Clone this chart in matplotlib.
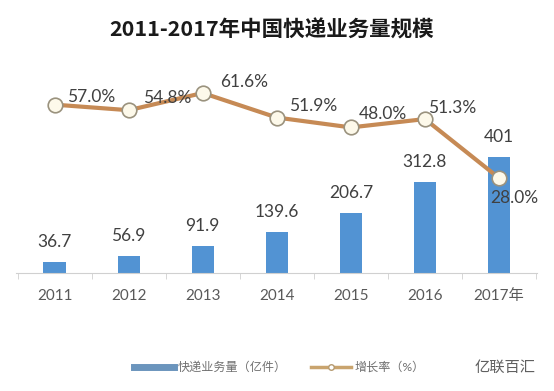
import matplotlib
matplotlib.use("Agg")
import matplotlib.pyplot as plt
from matplotlib.lines import Line2D

plt.rcParams['font.family'] = ['Lato', 'Noto Sans CJK SC', 'DejaVu Sans']

# data
years = ['2011', '2012', '2013', '2014', '2015', '2016', '2017年']
volume = [36.7, 56.9, 91.9, 139.6, 206.7, 312.8, 401]
volume_labels = ['36.7', '56.9', '91.9', '139.6', '206.7', '312.8', '401']
growth = [57.0, 54.8, 61.6, 51.9, 48.0, 51.3, 28.0]

bar_color = '#5293d3'
line_color = '#c68a55'
text_color = '#404040'

fig = plt.figure(figsize=(5.54, 3.91), dpi=100)
ax = fig.add_axes([0.029, 0.3026, 0.940, 0.545])
x = list(range(len(years)))

ax.bar(x, volume, width=0.30, color=bar_color, zorder=2)
ax.set_xlim(-0.52, 6.51)
ax.set_ylim(0, 737)
ax.set_xticks(x)
ax.set_xticklabels(years, fontsize=11, color='#595959')
ax.set_xticks([i - 0.5 for i in range(len(years) + 1)], minor=True)
ax.tick_params(axis='x', which='major', length=0, pad=12)
ax.tick_params(axis='x', which='minor', length=4, color='#d0d0d0')
ax.set_yticks([])
for s in ['top', 'right', 'left']:
    ax.spines[s].set_visible(False)
ax.spines['bottom'].set_color('#d0d0d0')

for xi, v, lab in zip(x, volume, volume_labels):
    ax.annotate(lab, (xi, v), xytext=(0, 20), textcoords='offset pixels',
                ha='center', va='center', fontsize=12.5, color=text_color)

# growth rate on a second scale
ax2 = ax.twinx()
ax2.set_ylim(-9.4, 74.8)
ax2.axis('off')
ax2.plot(x, growth, color=line_color, lw=3, marker='o', markersize=10.5,
         markerfacecolor='#fdf9ea', markeredgecolor='#9a927e', markeredgewidth=1.2,
         zorder=3)

offsets = [(37, 8), (39, 12), (41, 11), (36, 12), (32, 13), (27, 11), (15, -20)]
for xi, g, off in zip(x, growth, offsets):
    ax2.annotate('%.1f%%' % g, (xi, g), xytext=off, textcoords='offset pixels',
                 ha='center', va='center', fontsize=12.5, color=text_color)

fig.text(0.49, 0.923, '2011-2017年中国快递业务量规模', ha='center', va='center',
         fontsize=15.5, fontweight='bold', family='Noto Sans CJK SC', color='#1a1a1a')

handles = [Line2D([0], [0], color='#6b95bd', lw=5),
           Line2D([0], [0], color='#c9a46e', lw=2.5, marker='o', markersize=4,
                  markerfacecolor='white', markeredgecolor='#b59a70')]
fig.legend(handles, ['快递业务量（亿件）', '增长率（%）'], loc='center',
           bbox_to_anchor=(0.504, 0.061), ncol=2, frameon=False, fontsize=8.7,
           labelcolor='#707070', handlelength=3.3, handletextpad=0.3,
           columnspacing=2.0)

fig.text(0.912, 0.061, '亿联百汇', ha='center', va='center', fontsize=11,
         family='Noto Sans CJK SC', color='#606060')

fig.savefig('out.png', dpi=100, facecolor='white')
